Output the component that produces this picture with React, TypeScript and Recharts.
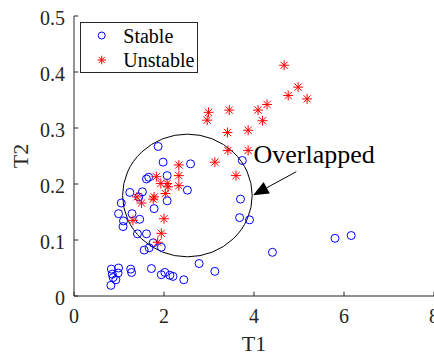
import {
  ScatterChart, Scatter, XAxis, YAxis, Legend, ReferenceArea, ReferenceLine, ReferenceDot,
} from "recharts";

// [T1, T2] samples
const stablePoints: [number, number][] = [
  [1.87, 0.267], [1.98, 0.239], [2.59, 0.236], [2.07, 0.215], [1.61, 0.209],
  [1.66, 0.212], [1.52, 0.186], [1.24, 0.185], [1.44, 0.177], [2.52, 0.189],
  [2.07, 0.170], [1.05, 0.166], [1.78, 0.156], [0.99, 0.147], [1.29, 0.147],
  [1.10, 0.134], [1.46, 0.137], [1.09, 0.124], [1.41, 0.111], [1.61, 0.111],
  [1.76, 0.095], [1.94, 0.087], [1.67, 0.086], [1.56, 0.082], [0.83, 0.048],
  [0.99, 0.050], [1.26, 0.048], [1.28, 0.042], [0.85, 0.039], [0.98, 0.041],
  [0.87, 0.033], [0.93, 0.029], [0.82, 0.019], [1.72, 0.049], [1.94, 0.038],
  [2.02, 0.042], [2.13, 0.037], [2.20, 0.035], [2.44, 0.029], [2.78, 0.058],
  [3.13, 0.044], [3.74, 0.242], [3.70, 0.173], [3.68, 0.140], [3.90, 0.136],
  [4.41, 0.078], [5.80, 0.103], [6.16, 0.108],
];

const unstablePoints: [number, number][] = [
  [2.33, 0.234], [1.83, 0.213], [2.33, 0.215], [1.93, 0.201], [2.07, 0.201],
  [2.09, 0.195], [2.33, 0.197], [2.03, 0.183], [1.78, 0.177], [1.76, 0.173],
  [1.40, 0.177], [1.50, 0.166], [1.31, 0.135], [2.00, 0.138], [1.94, 0.112],
  [1.86, 0.096], [3.13, 0.239], [3.60, 0.215], [3.42, 0.260], [3.87, 0.260],
  [3.41, 0.292], [3.87, 0.296], [2.96, 0.314], [2.99, 0.328], [3.45, 0.332],
  [4.09, 0.332], [4.19, 0.313], [4.29, 0.342], [4.67, 0.412], [4.98, 0.373],
  [4.76, 0.358], [5.18, 0.352],
];

const xTicks = [0, 2, 4, 6, 8];
const yTicks = [0, 0.1, 0.2, 0.3, 0.4, 0.5];

// circled overlap region and its callout
const overlapT1: [number, number] = [1.08, 3.96];
const overlapT2: [number, number] = [0.07, 0.289];
const arrowFrom = { x: 4.94, y: 0.222 };
const arrowTo = { x: 3.98, y: 0.18 };
const calloutAt = { x: 3.99, y: 0.238 };
const calloutText = "Overlapped";

const FONT = '"Liberation Serif", "Times New Roman", serif';
const AXIS = "#262626";
const BLUE = "#0000ff";
const RED = "#ff0000";

const toRows = (pts: [number, number][]) => pts.map(([t1, t2]) => ({ t1, t2 }));

function CircleMarker({ cx, cy, r = 4 }: any) {
  return <circle cx={cx} cy={cy} r={r} fill="none" stroke={BLUE} strokeWidth={1} />;
}

function StarMarker({ cx, cy, a = 5 }: any) {
  const d = a * 0.72;
  return (
    <g stroke={RED} strokeWidth={1}>
      <line x1={cx - a} y1={cy} x2={cx + a} y2={cy} />
      <line x1={cx} y1={cy - a} x2={cx} y2={cy + a} />
      <line x1={cx - d} y1={cy - d} x2={cx + d} y2={cy + d} />
      <line x1={cx - d} y1={cy + d} x2={cx + d} y2={cy - d} />
    </g>
  );
}

function LegendBox({ payload }: any) {
  return (
    <svg width={119} height={52} style={{ display: "block" }}>
      <rect x={0.5} y={0.5} width={117} height={50} fill="#fff" stroke={AXIS} />
      {(payload ?? []).map((item: any, i: number) => {
        const cy = 13.5 + i * 24.5;
        return (
          <g key={item.value}>
            {item.type === "star"
              ? <StarMarker cx={21.7} cy={cy} a={4.3} />
              : <CircleMarker cx={21.7} cy={cy} r={3.5} />}
            <text x={43.3} y={cy + 7} fontFamily={FONT} fontSize={20} fill="#000">{item.value}</text>
          </g>
        );
      })}
    </svg>
  );
}

function Arrow({ x1, y1, x2, y2 }: any) {
  const len = Math.hypot(x1 - x2, y1 - y2);
  const ux = (x1 - x2) / len;
  const uy = (y1 - y2) / len;
  const head = 15.5;
  const half = 6.5;
  const bx = x2 + ux * head;
  const by = y2 + uy * head;
  const pts = `${x2},${y2} ${bx - uy * half},${by + ux * half} ${bx + uy * half},${by - ux * half}`;
  return (
    <g>
      <line x1={x1} y1={y1} x2={bx} y2={by} stroke="#000" strokeWidth={1} />
      <polygon points={pts} fill="#000" />
    </g>
  );
}

const xTick = (p: any) => (
  <text x={p.x} y={p.y} textAnchor="middle" fontFamily={FONT} fontSize={20} fill={AXIS}>
    {p.payload.value}
  </text>
);

const yTick = (p: any) => (
  <text x={p.x} y={p.y} dy={8.5} textAnchor="end" fontFamily={FONT} fontSize={20} fill={AXIS}>
    {p.payload.value}
  </text>
);

export default function App() {
  return (
    <div style={{ position: "absolute", left: 0, top: 0, width: 434, height: 356, overflow: "hidden", background: "#fff" }}>
      <ScatterChart width={440} height={356} margin={{ top: 16, right: 6, bottom: 0, left: 0 }}>
        <XAxis
          type="number" dataKey="t1" domain={[0, 8]} ticks={xTicks} height={60}
          stroke={AXIS} tickSize={-4.3} tickMargin={31.6} tick={xTick}
          label={{
            content: ({ viewBox }: any) => (
              <text x={viewBox.x + viewBox.width / 2} y={viewBox.y + 54.5} textAnchor="middle"
                fontFamily={FONT} fontSize={22} fill={AXIS}>T1</text>
            ),
          }}
        />
        <XAxis xAxisId="top" orientation="top" type="number" dataKey="t1" domain={[0, 8]} ticks={xTicks}
          height={0} stroke={AXIS} tickSize={-4.3} tick={false} />
        <YAxis
          type="number" dataKey="t2" domain={[0, 0.5]} ticks={yTicks} width={74}
          stroke={AXIS} tickSize={-4.3} tickMargin={13.3} tick={yTick}
          label={{
            content: ({ viewBox }: any) => {
              const x = viewBox.x + 28.3;
              const y = viewBox.y + viewBox.height / 2;
              return (
                <text x={x} y={y} transform={`rotate(-90 ${x} ${y})`} textAnchor="middle"
                  fontFamily={FONT} fontSize={22} fill={AXIS}>T2</text>
              );
            },
          }}
        />
        <YAxis yAxisId="right" orientation="right" type="number" dataKey="t2" domain={[0, 0.5]} ticks={yTicks}
          width={0} stroke={AXIS} tickSize={-4.3} tick={false} />
        <Legend
          layout="vertical" align="center" verticalAlign="middle"
          wrapperStyle={{ left: 80, top: 21.5, width: "auto", height: "auto" }}
          content={LegendBox}
        />
        <Scatter name="Stable" data={toRows(stablePoints)} fill={BLUE} legendType="circle"
          shape={CircleMarker} isAnimationActive={false} />
        <Scatter name="Unstable" data={toRows(unstablePoints)} fill={RED} legendType="star"
          shape={StarMarker} isAnimationActive={false} />
        <ReferenceArea
          x1={overlapT1[0]} x2={overlapT1[1]} y1={overlapT2[0]} y2={overlapT2[1]}
          shape={(p: any) => (
            <ellipse cx={p.x + p.width / 2} cy={p.y + p.height / 2} rx={p.width / 2} ry={p.height / 2}
              fill="none" stroke="#000" strokeWidth={1} />
          )}
        />
        <ReferenceLine segment={[arrowFrom, arrowTo]} shape={Arrow} />
        <ReferenceDot
          x={calloutAt.x} y={calloutAt.y}
          shape={(p: any) => (
            <text x={p.cx} y={p.cy} fontFamily={FONT} fontSize={26} fill="#000">{calloutText}</text>
          )}
        />
      </ScatterChart>
    </div>
  );
}
